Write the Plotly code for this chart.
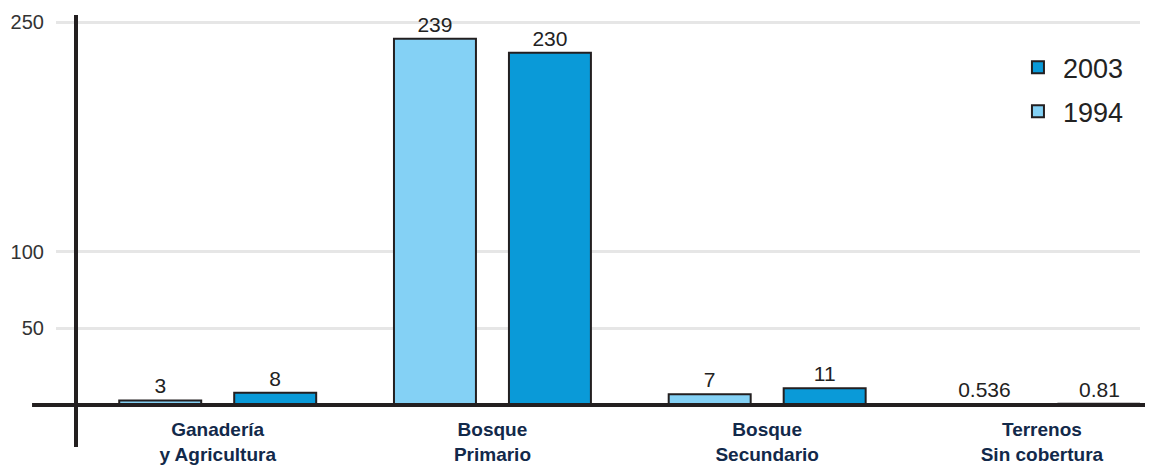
import plotly.graph_objects as go

categories = ["Ganadería<br>y Agricultura", "Bosque<br>Primario", "Bosque<br>Secundario", "Terrenos<br>Sin cobertura"]
values_1994 = [3, 239, 7, 0.536]
values_2003 = [8, 230, 11, 0.81]
labels_1994 = ["3", "239", "7", "0.536"]
labels_2003 = ["8", "230", "11", "0.81"]
y_ticks = [50, 100, 250]

FONT = "Liberation Sans, Arial, sans-serif"
DARK = "#231F20"

fig = go.Figure()
fig.add_trace(go.Bar(
    x=categories, y=values_1994, name="1994", legendgroup="a", legendrank=2,
    marker=dict(color="#84D1F5", line=dict(color=DARK, width=2)),
    text=labels_1994, textposition="outside", cliponaxis=False,
    textfont=dict(size=21, color="#222222", family=FONT),
))
fig.add_trace(go.Bar(
    x=categories, y=values_2003, name="2003", legendgroup="b", legendrank=1,
    marker=dict(color="#0A9AD8", line=dict(color=DARK, width=2)),
    text=labels_2003, textposition="outside", cliponaxis=False,
    textfont=dict(size=21, color="#222222", family=FONT),
))

fig.add_shape(type="line", xref="paper", yref="y", x0=-0.0221, x1=1.012, y0=0, y1=0,
              line=dict(color=DARK, width=4), layer="above")

fig.update_layout(
    width=1145, height=459,
    margin=dict(l=48, r=13, t=7, b=20, autoexpand=False),
    paper_bgcolor="white", plot_bgcolor="white",
    font=dict(family=FONT, color="#333333"),
    barmode="group", bargap=0.163, bargroupgap=0.287,
    showlegend=True,
    legend=dict(x=0.8828, y=0.935, xanchor="left", yanchor="top",
                traceorder="grouped", tracegroupgap=6, itemwidth=40,
                font=dict(size=27, color="#222222", family=FONT),
                bgcolor="rgba(0,0,0,0)"),
    xaxis=dict(
        range=[-0.5886, 3.357], anchor="free", position=0.0972, automargin=False,
        showline=False, showgrid=False, zeroline=False, ticks="", ticklabelstandoff=11,
        tickfont=dict(size=19, color="#12294A", family=FONT, weight="bold"),
    ),
    yaxis=dict(
        range=[-27.4, 254.57], anchor="free", position=0.01845, automargin=False,
        tickvals=y_ticks, ticktext=[str(v) for v in y_ticks],
        showline=True, linecolor=DARK, linewidth=4,
        showgrid=True, gridcolor="#E6E6E6", gridwidth=3, zeroline=False,
        ticks="", ticklabelstandoff=26,
        tickfont=dict(size=20, color="#333333", family=FONT),
    ),
)

fig.write_html("out.html")
